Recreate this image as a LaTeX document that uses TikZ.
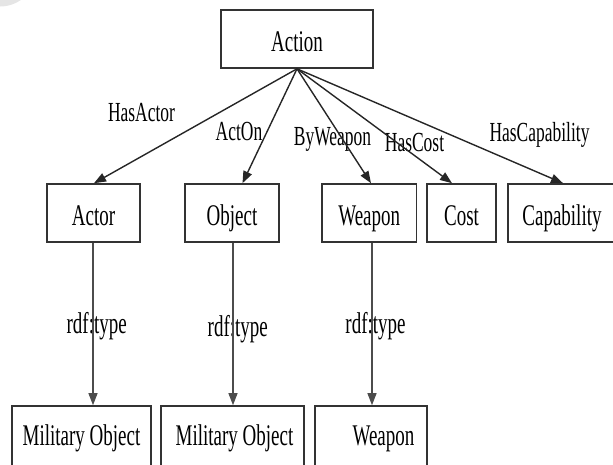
\documentclass[tikz,border=0pt]{standalone}
\usepackage{fontspec}
\setmainfont{Liberation Serif}[FakeStretch=0.633]
\usetikzlibrary{arrows.meta}
\begin{document}
\begin{tikzpicture}[x=1pt,y=-1pt,
  box/.style={draw=black!80, line width=1.6pt, inner sep=0pt, minimum height=58pt,
    font=\fontsize{30}{32}\selectfont, text height=26pt, text depth=2pt},
  lowbox/.style={box, minimum height=60pt, text height=22pt, text depth=4pt},
  lbl/.style={inner sep=0pt, anchor=base, font=\fontsize{27.6}{30}\selectfont},
  rdf/.style={inner sep=0pt, anchor=base, font=\fontsize{30}{32}\selectfont},
  conn/.style={draw=black!85, line width=1.4pt, -{Triangle[length=12pt,width=9pt]}},
  vconn/.style={conn, draw=black!70, line width=1.1pt}]
\useasboundingbox (0,0) rectangle (613,464);
\clip (0,0) rectangle (613,464);
\fill[black!10] (0,-30) circle[radius=36.5];
% top row
\node[box, minimum width=152pt] (action) at (297,39) {Action};
\node[box, minimum width=93pt] (actor) at (93.5,213) {Actor};
\node[box, minimum width=94pt] (object) at (232,213) {Object};
\node[box, minimum width=94.5pt] (weapon) at (369.25,213) {Weapon};
\node[box, minimum width=69pt] (cost) at (461.5,213) {Cost};
\node[box, minimum width=108pt] (capability) at (562,213) {Capability};
% bottom row
\node[lowbox, minimum width=139pt] (mo1) at (81.5,436) {Military Object};
\node[lowbox, minimum width=143pt] (mo2) at (232.5,436) {\hspace*{4pt}Military Object};
\node[lowbox, minimum width=112pt] (weapon2) at (371,436) {\hspace*{25pt}Weapon};
% edge labels
\node[lbl] (l1) at (141.5,121) {HasActor};
\node[lbl] (l2) at (239,140) {ActOn};
\node[lbl] (l3) at (332.5,145) {ByWeapon};
\node[lbl] (l4) at (414.5,151) {HasCost};
\node[lbl] (l5) at (539.5,141) {HasCapability};
\node[rdf] (r1) at (96.7,333) {rdf:type};
\node[rdf] (r2) at (237.8,336) {rdf:type};
\node[rdf] (r3) at (375.5,333) {rdf:type};
% connectors
\draw[conn] (action.south) -- ([xshift=0.5pt]actor.north);
\draw[conn] (action.south) -- ([xshift=10.5pt]object.north);
\draw[conn] (action.south) -- ([xshift=1.75pt]weapon.north);
\draw[conn] (action.south) -- ([xshift=-9.5pt]cost.north);
\draw[conn] (action.south) -- ([xshift=1pt]capability.north);
\draw[vconn] ([xshift=-0.5pt]actor.south) -- ([xshift=-0.5pt]actor.south |- mo1.north);
\draw[vconn] ([xshift=1pt]object.south) -- ([xshift=1pt]object.south |- mo2.north);
\draw[vconn] ([xshift=2.75pt]weapon.south) -- ([xshift=2.75pt]weapon.south |- weapon2.north);
\end{tikzpicture}
\end{document}
